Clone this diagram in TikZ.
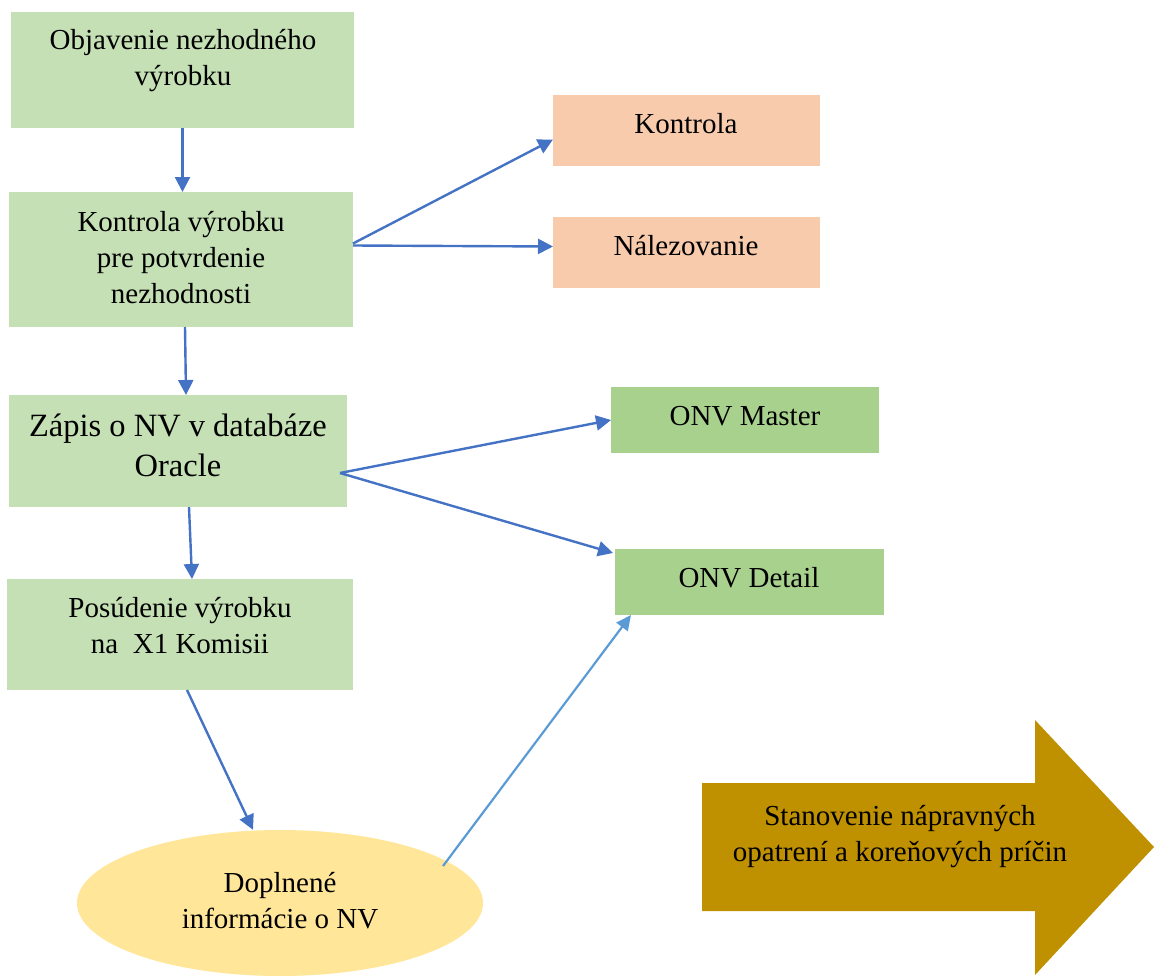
\documentclass[tikz,border=0pt]{standalone}
\usepackage{fontspec}
\setmainfont{Liberation Serif}
\usetikzlibrary{arrows.meta,shapes.geometric}
\definecolor{boxgreen}{HTML}{C5E0B4}
\definecolor{onvgreen}{HTML}{A9D18E}
\definecolor{peach}{HTML}{F8CBAD}
\definecolor{sand}{HTML}{FFE699}
\definecolor{ochre}{HTML}{BF9000}
\definecolor{flowblue}{HTML}{4472C4}
\definecolor{lightblue}{HTML}{5B9BD5}
\tikzset{
  panel/.style={rectangle, inner sep=0pt, outer sep=0pt, draw=none},
  label/.style={align=center, inner sep=0pt, font=\fontsize{29}{36}\selectfont},
  biglabel/.style={align=center, inner sep=0pt, font=\fontsize{32.5}{40}\selectfont},
  flow/.style={draw=flowblue, line width=2.4pt, -{Triangle[length=15pt,width=15pt]}},
  flowlight/.style={draw=lightblue, line width=2.2pt, -{Triangle[length=15pt,width=14pt]}}
}
\begin{document}
\begin{tikzpicture}[x=1pt,y=-1pt]
\useasboundingbox (0,0) rectangle (1154,977);

% process boxes on the left
\node[panel, fill=boxgreen, minimum width=343pt, minimum height=116pt] (b1) at (182.5,70) {};
\node[panel, fill=boxgreen, minimum width=344pt, minimum height=135pt] (b2) at (181,259.5) {};
\node[panel, fill=boxgreen, minimum width=338pt, minimum height=112pt] (b3) at (178,451) {};
\node[panel, fill=boxgreen, minimum width=346pt, minimum height=111pt] (b4) at (180,634.5) {};

\node[label] (t1) at (183,61) {Objavenie nezhodného\\výrobku};
\node[label] (t2) at (181,258) {Kontrola výrobku\\pre potvrdenie\\nezhodnosti};
\node[biglabel] (t3) at (178,445) {Zápis o NV v databáze\\Oracle};
\node[label] (t4) at (180,626) {Posúdenie výrobku\\na\ \ X1 Komisii};

% outputs on the right
\node[panel, fill=peach, minimum width=267pt, minimum height=71pt] (k) at (686.5,130.5) {};
\node[panel, fill=peach, minimum width=267pt, minimum height=71pt] (n) at (686.5,252.5) {};
\node[panel, fill=onvgreen, minimum width=268pt, minimum height=66pt] (m) at (745,420) {};
\node[panel, fill=onvgreen, minimum width=269pt, minimum height=66pt] (d) at (749.5,582) {};

\node[label] (tk) at (686,124) {Kontrola};
\node[label] (tn) at (686,246) {Nálezovanie};
\node[label] (tm) at (745,416) {ONV Master};
\node[label] (td) at (749,578) {ONV Detail};

% supplementary information
\node[ellipse, fill=sand, inner sep=0pt, minimum width=406pt, minimum height=146pt] (e) at (280,903) {};
\node[label] (te) at (280,901) {Doplnené\\informácie o NV};

% block arrow
\fill[ochre] (702,783) -- (1035,783) -- (1035,720) -- (1154,847) -- (1035,975) -- (1035,911) -- (702,911) -- cycle;
\node[label] (ta) at (900,837) {Stanovenie nápravných\\opatrení a koreňových príčin};

% connectors
\draw[flow] (b1.south) -- (b1.south |- b2.north);
\draw[flow] ([xshift=4pt]b2.south) -- ([xshift=8pt]b3.north);
\draw[flow] ([xshift=11pt]b3.south) -- ([xshift=12pt]b4.north);
\draw[flow] ([xshift=7pt]b4.south) -- ([xshift=-27pt]e.north);

\draw[flow] ([yshift=16pt]b2.east) -- ([yshift=-9pt]k.west);
\draw[flow] ([yshift=14pt]b2.east) -- ([yshift=6pt]n.west);

\draw[flow] ([shift={(-7pt,-22pt)}]b3.east) -- (m.west);
\draw[flow] ([shift={(-7pt,-22pt)}]b3.east) -- ([shift={(-2pt,-4pt)}]d.north west);

\draw[flowlight] ([shift={(163pt,37pt)}]e.center) -- ([xshift=16pt]d.south west);
\end{tikzpicture}
\end{document}
